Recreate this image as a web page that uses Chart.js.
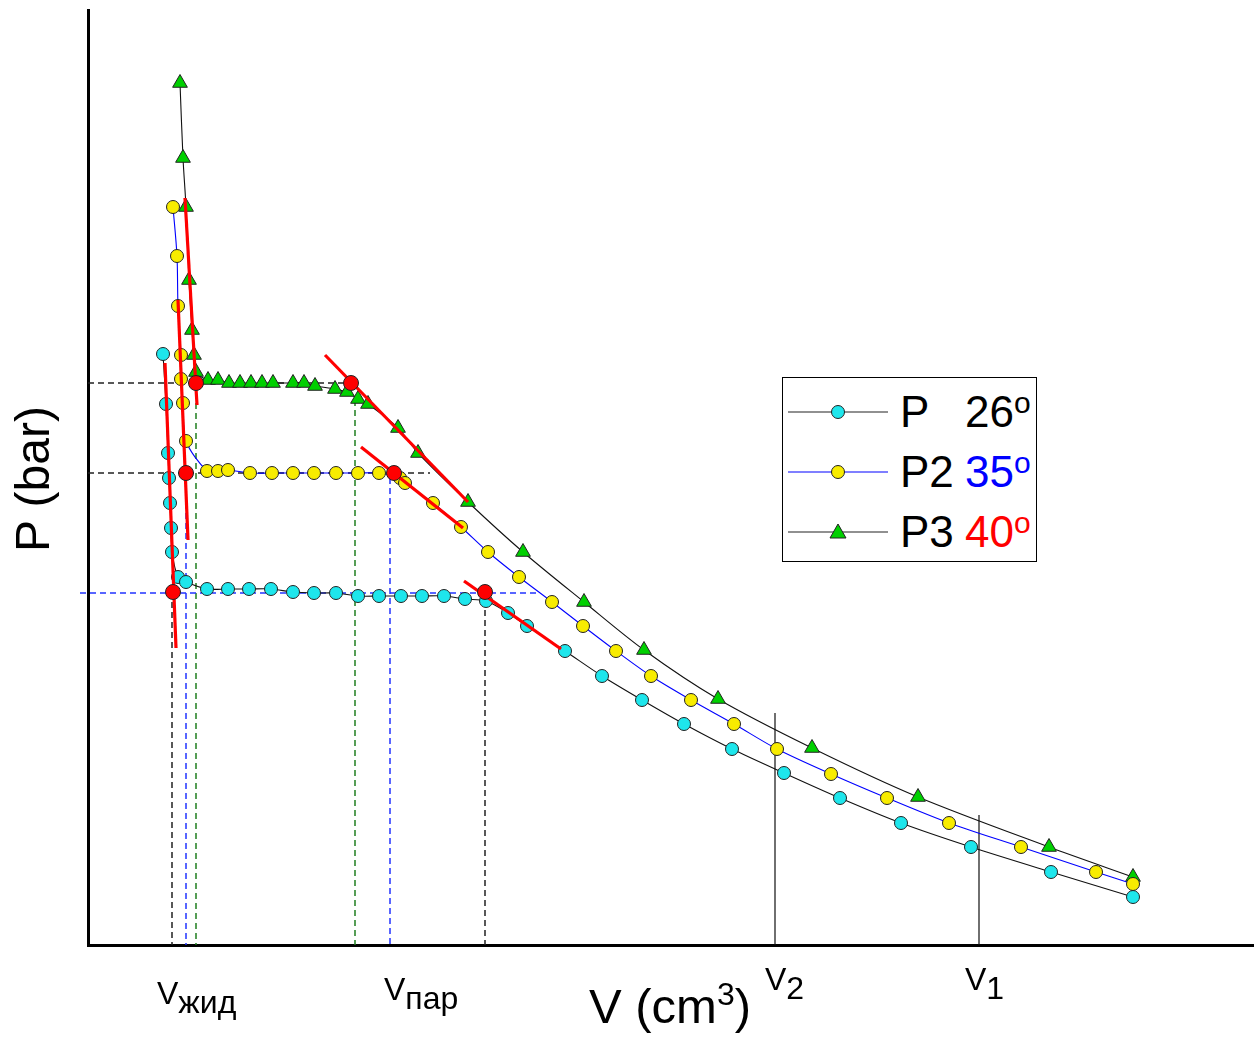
<!DOCTYPE html>
<html lang="ru">
<head>
<meta charset="UTF-8" />
<title>P-V isotherms</title>
<script src="https://cdn.jsdelivr.net/npm/chart.js"></script>
<style>
  body { margin: 0; background: #fff; font-family: Arial, "Liberation Sans", sans-serif; }
  #wrap { position: relative; width: 1254px; height: 1039px; overflow: hidden; }
  #chart { position: absolute; left: 0; top: 0; }
  .lbl { position: absolute; white-space: nowrap; color: #000; line-height: 1; }
  .sub { position: relative; top: 9px; }
  .deg { font-size: 30px; position: relative; top: -14px; }
  #legend { position: absolute; left: 782px; top: 377px; width: 253px; height: 183px; border: 1.5px solid #000; background: #fff; }
  #legend svg { position: absolute; left: 5px; }
  #legend .lbl { font-size: 44px; }
</style>
</head>
<body>
<div id="wrap">
  <canvas id="chart" width="1254" height="1039"></canvas>

  <div class="lbl" style="left:-67px; top:455px; width:200px; height:48px; font-size:48px; text-align:center; transform:rotate(-90deg);">P (bar)</div>
  <div class="lbl" style="left:589px; top:982px; font-size:49px;">V (cm<span style="font-size:32px; position:relative; top:-18px;">3</span>)</div>
  <div class="lbl" style="left:157px; top:977px; font-size:32px;">V<span class="sub">жид</span></div>
  <div class="lbl" style="left:384px; top:973px; font-size:32px;">V<span class="sub">пар</span></div>
  <div class="lbl" style="left:765px; top:963px; font-size:32px;">V<span class="sub">2</span></div>
  <div class="lbl" style="left:965px; top:963px; font-size:32px;">V<span class="sub">1</span></div>

  <div id="legend">
    <svg style="top:24px" width="102" height="20"><line x1="0" y1="10" x2="100" y2="10" stroke="#222" stroke-width="1.2"/><circle cx="50" cy="10" r="6.5" fill="#1ee6ec" stroke="#222"/></svg>
    <span class="lbl" style="left:117px; top:12px;">P</span>
    <span class="lbl" style="left:182px; top:12px;">26<span class="deg">o</span></span>

    <svg style="top:84px" width="102" height="20"><line x1="0" y1="10" x2="100" y2="10" stroke="#0000ff" stroke-width="1.2"/><circle cx="50" cy="10" r="6.5" fill="#f8ec00" stroke="#222"/></svg>
    <span class="lbl" style="left:117px; top:72px;">P2</span>
    <span class="lbl" style="left:182px; top:72px; color:#0000ff;">35<span class="deg">o</span></span>

    <svg style="top:144px" width="102" height="20"><line x1="0" y1="10" x2="100" y2="10" stroke="#222" stroke-width="1.2"/><polygon points="50,2 58,16 42,16" fill="#00d000" stroke="#222"/></svg>
    <span class="lbl" style="left:117px; top:132px;">P3</span>
    <span class="lbl" style="left:182px; top:132px; color:#ff0000;">40<span class="deg">o</span></span>
  </div>
</div>

<script>
// P, 26 deg
const vP1 = [7.5, 7.8, 8.0, 8.1, 8.2, 8.3, 8.4, 9.0, 9.8, 11.9, 14.0, 16.1, 18.3, 20.5, 22.6, 24.8,
  27.0, 29.1, 31.3, 33.4, 35.6, 37.7, 39.8, 42.0, 43.9, 47.7, 51.4, 55.4, 59.6, 64.4, 69.6, 75.2,
  81.3, 88.3, 96.3, 104.5];
const pP1 = [59.1, 54.1, 49.2, 46.7, 44.2, 41.7, 39.3, 36.8, 36.3, 35.6, 35.6, 35.6, 35.6, 35.3, 35.2, 35.2,
  34.9, 34.9, 34.9, 34.9, 34.9, 34.6, 34.4, 33.2, 31.9, 29.4, 26.9, 24.5, 22.1, 19.6, 17.2, 14.7,
  12.2, 9.8, 7.3, 4.8];

// P2, 35 deg
const vP2 = [8.5, 8.9, 9.0, 9.3, 9.3, 9.5, 9.8, 11.9, 13.0, 14.0, 16.2, 18.4, 20.5, 22.6, 24.8, 27.0,
  29.1, 31.2, 31.7, 34.5, 37.3, 40.0, 43.1, 46.4, 49.5, 52.8, 56.3, 60.3, 64.6, 68.9, 74.3, 79.9,
  86.1, 93.3, 100.8, 104.5];
const pP2 = [73.8, 68.9, 63.9, 59.0, 56.6, 54.2, 50.4, 47.4, 47.4, 47.5, 47.2, 47.2, 47.2, 47.2, 47.2, 47.2,
  47.2, 46.7, 46.2, 44.2, 41.8, 39.3, 36.8, 34.3, 31.9, 29.4, 26.9, 24.5, 22.1, 19.6, 17.1, 14.7,
  12.2, 9.8, 7.3, 6.1];

// P3, 40 deg
const vP3 = [9.2, 9.5, 9.8, 10.1, 10.4, 10.6, 10.8, 12.0, 13.0, 14.1, 15.2, 16.3, 17.4, 18.5, 20.5, 21.6,
  22.7, 24.7, 25.9, 27.0, 28.0, 31.0, 33.0, 38.0, 43.5, 49.6, 55.6, 63.0, 72.4, 83.0, 96.1, 104.5];
const pP3 = [86.2, 78.7, 73.8, 66.5, 61.5, 59.0, 57.3, 56.5, 56.5, 56.2, 56.2, 56.2, 56.2, 56.2, 56.2, 56.2,
  55.9, 55.6, 55.3, 54.6, 54.1, 51.7, 49.2, 44.3, 39.3, 34.3, 29.5, 24.6, 19.7, 14.8, 9.8, 6.8];

// saturation points (liquid / vapour ends of each plateau)
const vSat = [10.8, 26.3, 9.8, 30.6, 8.5, 39.7];
const pSat = [56.2, 56.2, 47.2, 47.2, 35.3, 35.3];

// tangent segments [start, end]
const tanV = [[7.7, 8.8], [9.0, 10.0], [9.7, 10.9], [23.7, 38.0], [27.3, 37.5], [37.6, 47.3]];
const tanP = [[58.2, 29.7], [64.5, 40.5], [74.7, 54.0], [59.0, 44.3], [49.8, 41.7], [36.4, 29.6]];

// dashed projection lines
const guideV = [[0, 26.3], [0, 34.2], [-0.8, 45.2], [8.4, 8.4], [9.8, 9.8], [10.8, 10.8], [26.7, 26.7], [30.2, 30.2], [39.7, 39.7]];
const guideP = [[56.2, 56.2], [47.2, 47.2], [35.2, 35.2], [35.3, 0], [47.2, 0], [56.2, 0], [54.5, 0], [46.7, 0], [34.5, 0]];
const guideColor = ['#222', '#222', '#2233ff', '#222', '#2233ff', '#1f7f1f', '#1f7f1f', '#2233ff', '#222'];

// V2, V1 markers
const markV = [68.7, 89.1];
const markP = [23.2, 13.0];

const pts = (xs, ys) => xs.map((x, i) => ({ x: x, y: ys[i] }));

const datasets = [];

datasets.push({
  data: pts(vSat, pSat), showLine: false, order: 0,
  pointRadius: 7.5, pointBackgroundColor: '#ff0000', pointBorderColor: '#222', pointBorderWidth: 1
});

tanV.forEach((v, i) => {
  datasets.push({
    data: pts(v, tanP[i]), showLine: true, order: 1,
    borderColor: '#ff0000', borderWidth: 3.2, pointRadius: 0
  });
});

datasets.push({
  data: pts(vP1, pP1), showLine: true, order: 2, tension: 0.3,
  borderColor: '#111', borderWidth: 1.1,
  pointRadius: 6.5, pointBackgroundColor: '#1ee6ec', pointBorderColor: '#222', pointBorderWidth: 1
});
datasets.push({
  data: pts(vP2, pP2), showLine: true, order: 3, tension: 0.3,
  borderColor: '#0000ff', borderWidth: 1.1,
  pointRadius: 6.5, pointBackgroundColor: '#f8ec00', pointBorderColor: '#222', pointBorderWidth: 1
});
datasets.push({
  data: pts(vP3, pP3), showLine: true, order: 4, tension: 0.3,
  borderColor: '#111', borderWidth: 1.1, pointStyle: 'triangle',
  pointRadius: 8.5, pointBackgroundColor: '#00d000', pointBorderColor: '#222', pointBorderWidth: 1
});

guideV.forEach((v, i) => {
  datasets.push({
    data: pts(v, guideP[i]), showLine: true, order: 10, clip: false,
    borderColor: guideColor[i], borderWidth: 1.5, borderDash: [6, 4], pointRadius: 0
  });
});

markV.forEach((v, i) => {
  datasets.push({
    data: pts([v, v], [markP[i], 0]), showLine: true, order: 10,
    borderColor: '#111', borderWidth: 1.2, pointRadius: 0
  });
});

new Chart(document.getElementById('chart'), {
  type: 'scatter',
  data: { datasets: datasets },
  options: {
    responsive: false,
    animation: false,
    devicePixelRatio: 1,
    layout: { autoPadding: false, padding: { left: 88, right: 0, top: 10, bottom: 94 } },
    plugins: { legend: { display: false }, tooltip: { enabled: false } },
    scales: {
      x: {
        type: 'linear', min: 0, max: 116.6,
        ticks: { display: false }, grid: { display: false, drawTicks: false },
        border: { color: '#000', width: 3 }
      },
      y: {
        type: 'linear', min: 0, max: 93.5,
        ticks: { display: false }, grid: { display: false, drawTicks: false },
        border: { color: '#000', width: 3 }
      }
    }
  }
});
</script>
</body>
</html>
